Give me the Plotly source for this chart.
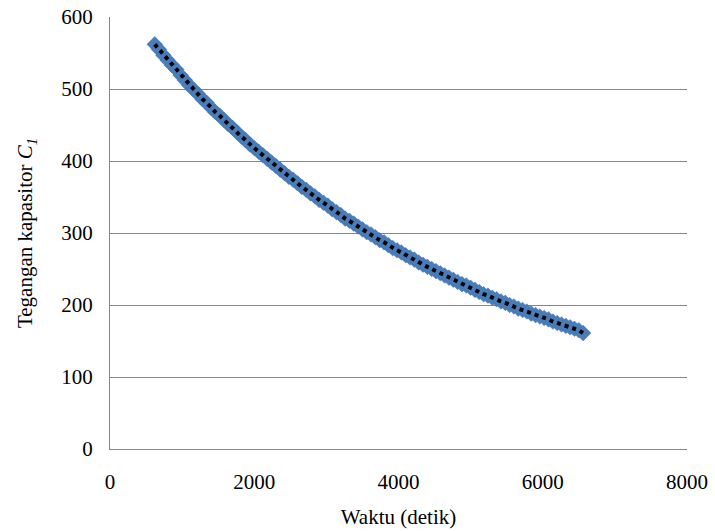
import plotly.graph_objects as go

waktu = [620, 680, 740, 800, 860, 920, 980, 1040, 1100, 1160,
         1220, 1280, 1340, 1400, 1460, 1520, 1580, 1640, 1700, 1760,
         1820, 1880, 1940, 2000, 2060, 2120, 2180, 2240, 2300, 2360,
         2420, 2480, 2540, 2600, 2660, 2720, 2780, 2840, 2900, 2960,
         3020, 3080, 3140, 3200, 3260, 3320, 3380, 3440, 3500, 3560,
         3620, 3680, 3740, 3800, 3860, 3920, 3980, 4040, 4100, 4160,
         4220, 4280, 4340, 4400, 4460, 4520, 4580, 4640, 4700, 4760,
         4820, 4880, 4940, 5000, 5060, 5120, 5180, 5240, 5300, 5360,
         5420, 5480, 5540, 5600, 5660, 5720, 5780, 5840, 5900, 5960,
         6020, 6080, 6140, 6200, 6260, 6320, 6380, 6440, 6500, 6560]

tegangan = [562, 555, 547, 540, 533, 527, 519, 512, 505, 499,
            493, 486, 481, 474, 468, 463, 457, 451, 446, 440,
            434, 429, 423, 418, 413, 408, 403, 398, 393, 388,
            383, 378, 374, 369, 364, 360, 355, 351, 346, 342,
            338, 333, 329, 325, 320, 317, 313, 309, 305, 301,
            298, 294, 290, 287, 283, 279, 276, 273, 269, 266,
            263, 259, 256, 253, 250, 247, 244, 241, 238, 235,
            232, 229, 227, 224, 221, 218, 215, 213, 210, 208,
            205, 203, 200, 198, 195, 193, 191, 188, 186, 184,
            182, 180, 177, 175, 173, 171, 169, 167, 165, 161]

x_ticks = [0, 2000, 4000, 6000, 8000]
y_ticks = [0, 100, 200, 300, 400, 500, 600]

fig = go.Figure()
fig.add_trace(go.Scatter(
    x=waktu, y=tegangan, mode="markers",
    marker=dict(symbol="diamond", size=12, color="#4A7EBB",
                line=dict(color="#3F72B0", width=0.5)),
    showlegend=False, hoverinfo="skip"))
fig.add_trace(go.Scatter(
    x=waktu, y=tegangan, mode="lines",
    line=dict(color="black", width=4, dash="dot"),
    showlegend=False, hoverinfo="skip"))

font = dict(family="Liberation Serif, Times New Roman, serif", size=21, color="black")

fig.update_layout(
    width=715, height=531,
    margin=dict(l=110, r=28, t=17, b=82),
    paper_bgcolor="white", plot_bgcolor="white",
    font=font,
    xaxis=dict(range=[0, 8000], tickvals=x_ticks, ticktext=[str(v) for v in x_ticks],
               showgrid=False, zeroline=False, showline=True, linecolor="#868686",
               linewidth=1, ticks="", ticklabelstandoff=14, automargin=False,
               title=dict(text="Waktu (detik)", font=font, standoff=16)),
    yaxis=dict(range=[0, 600], tickvals=y_ticks, ticktext=[str(v) for v in y_ticks],
               showgrid=True, gridcolor="#868686", gridwidth=1, zeroline=False,
               showline=True, linecolor="#868686", linewidth=1, ticks="",
               ticklabelstandoff=12, automargin=False,
               title=dict(text="Tegangan kapasitor <i>C</i><sub><i>1</i></sub>",
                          font=font, standoff=22)),
)

fig.write_html("out.html")
